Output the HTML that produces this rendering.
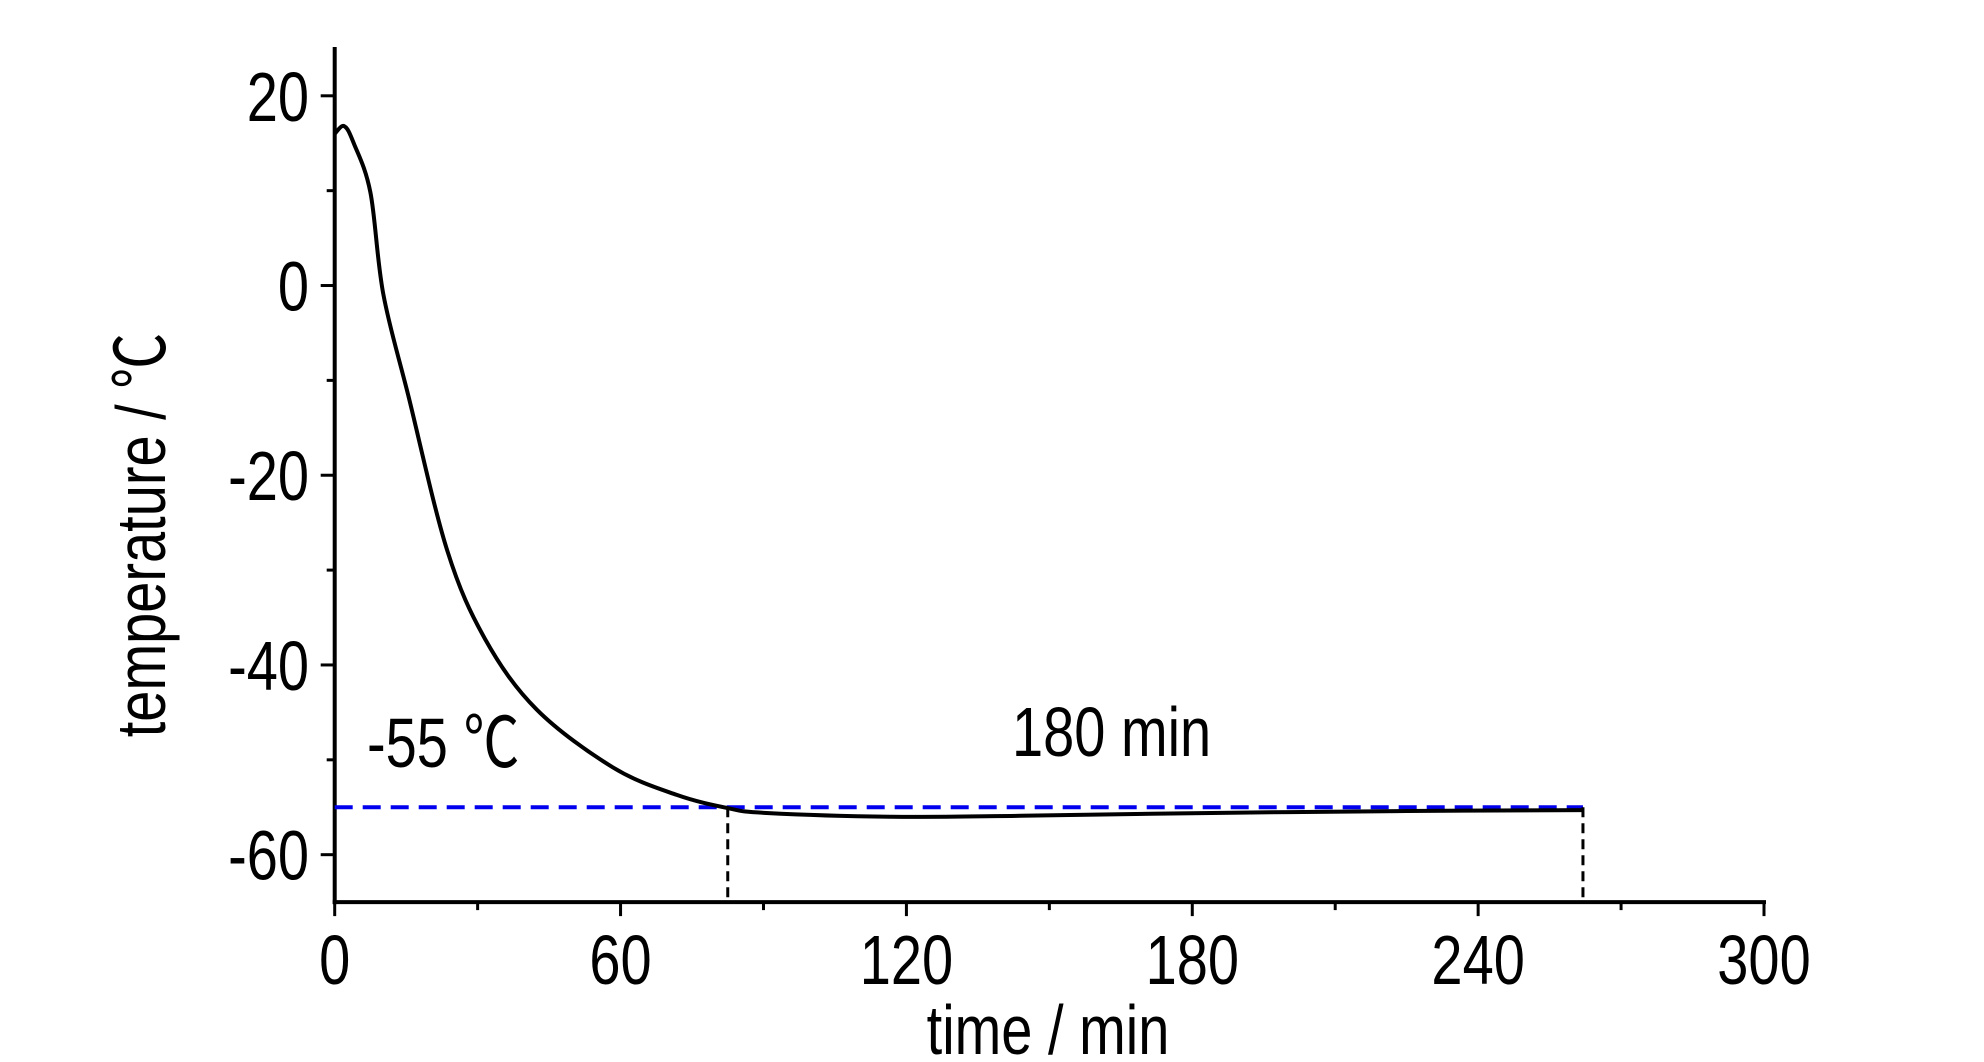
<!DOCTYPE html>
<html><head><meta charset="utf-8"><style>html,body{margin:0;padding:0;background:#fff}svg{display:block}</style></head>
<body>
<svg id="chart" width="1984" height="1062" viewBox="0 0 1984 1062" xmlns="http://www.w3.org/2000/svg" font-family="'Liberation Sans', 'Noto Sans CJK SC', sans-serif">
<g id="plot"></g>
</svg>
<script>
const times = [0, 2, 4, 7.5, 10.2, 15.5, 23.6, 31.6, 42.4, 58.4, 71.8, 82.6, 90.6, 117, 144, 184, 225, 262];
const temps = [16, 16.8, 15, 9.8, -0.9, -11.7, -27.9, -37.3, -44.7, -50.8, -53.7, -55.1, -55.6, -56, -55.9, -55.6, -55.4, -55.3];
const xTicks = [0, 60, 120, 180, 240, 300];
const yTicks = [20, 0, -20, -40, -60];
const targetTemp = [-55];
const holdStart = [82.5];
const holdEnd = [262];

const X0 = 334.7, X1 = 1764, Y20 = 95.8, YPER = 9.486;
const xs = t => X0 + (t / 300) * (X1 - X0);
const ys = v => Y20 + (20 - v) * YPER;
const NS = 'http://www.w3.org/2000/svg';
const plotG = document.getElementById('plot');
function mk(tag, attrs) { const el = document.createElementNS(NS, tag); for (const k in attrs) el.setAttribute(k, attrs[k]); plotG.appendChild(el); return el; }
const yBottom = ys(-65), yTop = 47;
let e;

// axes
e = mk('line', {x1: X0, y1: yTop, x2: X0, y2: yBottom + 2, stroke: '#000', 'stroke-width': 4});


e = mk('line', {x1: X0 - 2, y1: yBottom, x2: X1 + 2, y2: yBottom, stroke: '#000', 'stroke-width': 4});



// x ticks
for (let t = 0; t <= 300; t += 30) {
  const major = t % 60 === 0;
  e = mk('line', {x1: xs(t), y1: yBottom, x2: xs(t), y2: yBottom + (major ? 14 : 8), stroke: '#000', 'stroke-width': 3});
  
  
}
xTicks.forEach(t => {
  e = mk('text', {x: 0, y: 0, 'font-size': 70, 'text-anchor': 'middle', transform: `translate(${xs(t)},984) scale(0.8,1)`});
  e.textContent = t;
  
  
});
// y ticks
for (let v = -60; v <= 20; v += 10) {
  const major = v % 20 === 0;
  e = mk('line', {x1: X0, y1: ys(v), x2: X0 - (major ? 14 : 8), y2: ys(v), stroke: '#000', 'stroke-width': 3});
  
  
}
yTicks.forEach(v => {
  e = mk('text', {x: 0, y: 0, 'font-size': 70, 'text-anchor': 'end', transform: `translate(309,${ys(v) + 25}) scale(0.8,1)`});
  e.textContent = v;
  
  
});
// axis titles
e = mk('text', {x: 0, y: 0, 'font-size': 70, 'text-anchor': 'middle', transform: 'translate(1048,1054) scale(0.8,1)'});
e.textContent = 'time / min';


e = mk('text', {x: 0, y: 0, 'font-size': 70, 'text-anchor': 'middle', transform: 'translate(165,535) rotate(-90) scale(0.8,1)'});
e.textContent = 'temperature / ℃';



// reference lines
e = mk('line', {x1: xs(0), y1: ys(targetTemp[0]), x2: xs(holdEnd[0]), y2: ys(targetTemp[0]), stroke: '#0000ee', 'stroke-width': 4, 'stroke-dasharray': '18,10'});


[holdStart[0], holdEnd[0]].forEach((t, i) => {
  e = mk('line', {x1: xs(t), y1: ys(targetTemp[0]), x2: xs(t), y2: yBottom, stroke: '#000', 'stroke-width': 3, 'stroke-dasharray': '10,6'});
  
  
});

// curve (smooth via Catmull-Rom)
const pts = times.map((t, i) => [xs(t), ys(temps[i])]);
let d = `M${pts[0][0]},${pts[0][1]}`;
for (let i = 0; i < pts.length - 1; i++) {
  const p0 = pts[Math.max(0, i - 1)], p1 = pts[i], p2 = pts[i + 1], p3 = pts[Math.min(pts.length - 1, i + 2)];
  const c1 = [p1[0] + (p2[0] - p0[0]) / 6, p1[1] + (p2[1] - p0[1]) / 6];
  const c2 = [p2[0] - (p3[0] - p1[0]) / 6, p2[1] - (p3[1] - p1[1]) / 6];
  d += ` C${c1[0]},${c1[1]} ${c2[0]},${c2[1]} ${p2[0]},${p2[1]}`;
}
e = mk('path', {d: d, fill: 'none', stroke: '#000', 'stroke-width': 4});



// annotations
e = mk('text', {x: 0, y: 0, 'font-size': 70, transform: 'translate(367,767) scale(0.8,1)'});
e.textContent = '-55 ℃';


e = mk('text', {x: 0, y: 0, 'font-size': 70, transform: 'translate(1012,756) scale(0.8,1)'});
e.textContent = '180 min';


</script>
</body></html>
